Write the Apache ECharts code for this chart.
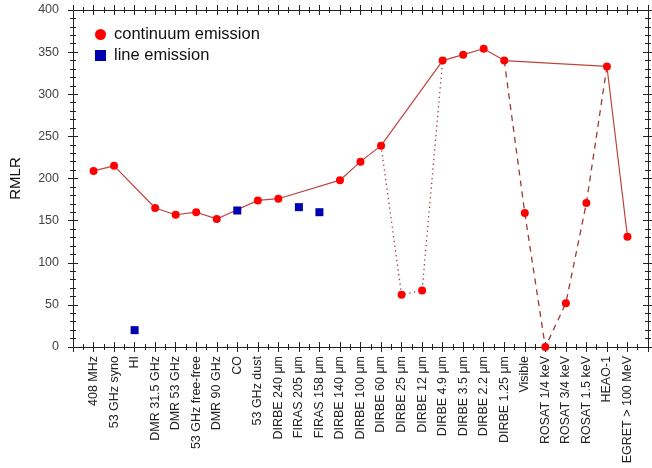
<!DOCTYPE html>
<html>
<head>
<meta charset="utf-8">
<script src="https://cdn.jsdelivr.net/npm/echarts@6/dist/echarts.min.js"></script>
<style>html,body{margin:0;padding:0;background:#fff}#c{width:652px;height:468px}</style>
</head>
<body>
<div id="c"></div>
<script>
const categories = ['408 MHz','53 GHz syno','HI','DMR 31.5 GHz','DMR 53 GHz','53 GHz free-free','DMR 90 GHz','CO','53 GHz dust','DIRBE 240 \u03bcm','FIRAS 205 \u03bcm','FIRAS 158 \u03bcm','DIRBE 140 \u03bcm','DIRBE 100 \u03bcm','DIRBE 60 \u03bcm','DIRBE 25 \u03bcm','DIRBE 12 \u03bcm','DIRBE 4.9 \u03bcm','DIRBE 3.5 \u03bcm','DIRBE 2.2 \u03bcm','DIRBE 1.25 \u03bcm','Visible','ROSAT 1/4 keV','ROSAT 3/4 keV','ROSAT 1.5 keV','HEAO-1','EGRET > 100 MeV'];
const continuum = [209,215,null,165,157,160,152,null,174,176,null,null,198,220,239,62,67,340,347,354,340,159,0,52,171,333,131];
const lineEmission = [null,null,20,null,null,null,null,162,null,null,166,160,null,null,null,null,null,null,null,null,null,null,null,null,null,null,null];
const solidPath = ['408 MHz','53 GHz syno','DMR 31.5 GHz','DMR 53 GHz','53 GHz free-free','DMR 90 GHz','53 GHz dust','DIRBE 240 \u03bcm','DIRBE 140 \u03bcm','DIRBE 100 \u03bcm','DIRBE 60 \u03bcm','DIRBE 4.9 \u03bcm','DIRBE 3.5 \u03bcm','DIRBE 2.2 \u03bcm','DIRBE 1.25 \u03bcm','HEAO-1','EGRET > 100 MeV'];
const dottedPath = ['DIRBE 60 \u03bcm','DIRBE 25 \u03bcm','DIRBE 12 \u03bcm','DIRBE 4.9 \u03bcm'];
const dashedPath = ['DIRBE 1.25 \u03bcm','Visible','ROSAT 1/4 keV','ROSAT 3/4 keV','ROSAT 1.5 keV','HEAO-1'];
const yTicks = [0,50,100,150,200,250,300,350,400];

function pts(arr){ const o=[]; arr.forEach((v,i)=>{ if(v!==null) o.push([i+1,v]); }); return o; }
function path(names){ return names.map(n=>{const i=categories.indexOf(n); return [i+1, continuum[i]];}); }

const font = 'Liberation Sans, Arial, Helvetica, sans-serif';
const axisColor = '#222';
function xAx(pos, inside, labels){
  return {type:'value', position:pos, min:0, max:categories.length+1, interval:1,
    axisLine:{show:true, onZero:false, lineStyle:{color:axisColor,width:1}},
    axisTick:{show:true, inside:inside, length:5, lineStyle:{color:axisColor}},
    minorTick:{show:true, splitNumber:2, length:3, lineStyle:{color:axisColor}},
    splitLine:{show:false},
    axisLabel:{show:labels, rotate:90, fontSize:12.5, fontFamily:font, color:'#222', margin:9,
      formatter:v=>(v>=1&&v<=categories.length)?categories[v-1]:''}
  };
}
function yAx(pos, inside, labels){
  return {type:'value', position:pos, min:0, max:400, interval:50,
    axisLine:{show:true, onZero:false, lineStyle:{color:axisColor,width:1}},
    axisTick:{show:true, inside:inside, length:5, lineStyle:{color:axisColor}},
    minorTick:{show:true, splitNumber:5, length:3, lineStyle:{color:axisColor}},
    splitLine:{show:false},
    axisLabel:{show:labels, fontSize:12.5, fontFamily:font, color:'#444', margin:14,
      formatter:v=>yTicks.includes(v)?String(v):''},
    name: labels ? 'RMLR' : '', nameLocation:'middle', nameGap:50, nameRotate:90,
    nameTextStyle:{fontSize:15, fontFamily:font, color:'#111'}
  };
}
const lineColor = '#c0443c';
const option = {
  animation:false,
  backgroundColor:'#fff',
  grid:{left:71, right:4, top:10, bottom:121},
  legend:{left:90, top:21, orient:'vertical', itemGap:4, itemWidth:11, itemHeight:11,
    textStyle:{fontSize:16.5, fontFamily:font, color:'#111', padding:[0,0,0,3]},
    data:[{name:'continuum emission', icon:'circle'},{name:'line emission', icon:'rect'}]},
  xAxis:[xAx('bottom',false,true), xAx('bottom',true,false), xAx('top',false,false), xAx('top',true,false)],
  yAxis:[yAx('left',false,true), yAx('left',true,false), yAx('right',false,false), yAx('right',true,false)],
  series:[
    {type:'line', data:path(solidPath), symbol:'none', lineStyle:{color:lineColor, width:1.2}, silent:true, z:2},
    {type:'line', data:path(dottedPath), symbol:'none', lineStyle:{color:'#9a3a3a', width:1.3, type:[1.3,3.5]}, silent:true, z:2},
    {type:'line', data:path(dashedPath), symbol:'none', lineStyle:{color:'#9a3a3a', width:1.3, type:[6,5]}, silent:true, z:2},
    {name:'continuum emission', type:'scatter', data:pts(continuum), symbol:'circle', symbolSize:8, itemStyle:{color:'#ff0000', opacity:1}, z:5},
    {name:'line emission', type:'scatter', data:pts(lineEmission), symbol:'rect', symbolSize:8, itemStyle:{color:'#0000b0', opacity:1}, z:5}
  ]
};
echarts.init(document.getElementById('c')).setOption(option);
</script>
</body>
</html>
